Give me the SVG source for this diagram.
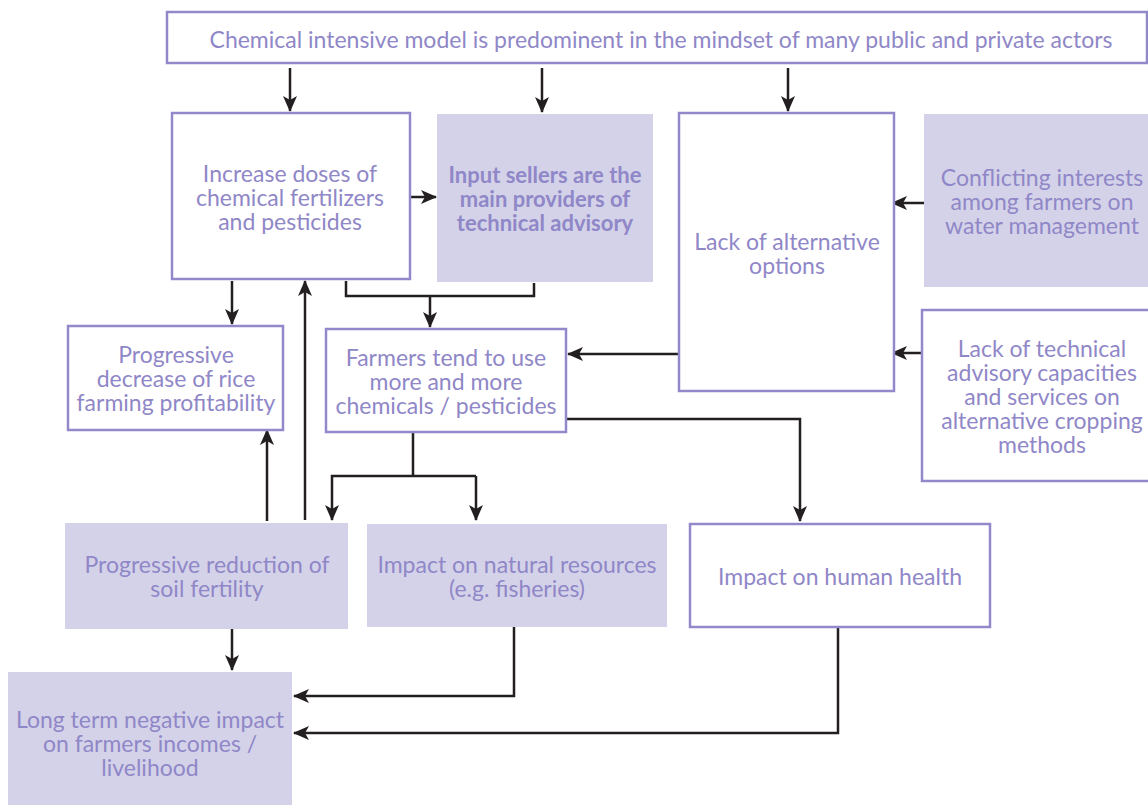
<svg xmlns="http://www.w3.org/2000/svg" width="1148" height="805" viewBox="0 0 1148 805">
  <style>
    .box { fill: #ffffff; stroke: #9189c9; stroke-width: 2.5; }
    .fill { fill: #d4d2e9; stroke: none; }
    .t { font-family: Lato, "Liberation Sans", sans-serif; font-size: 23px; fill: #8f87c7; text-anchor: middle; }
    .b { font-weight: bold; font-size: 22px; }
    .c { fill: none; stroke: #231f20; stroke-width: 2.5; }
    .a { marker-end: url(#arr); }
  </style>
  <defs>
    <marker id="arr" markerUnits="userSpaceOnUse" markerWidth="16" markerHeight="14" viewBox="0 0 16 14" refX="15" refY="7" orient="auto">
      <path d="M0,0 L16,7 L0,14 L4,7 Z" fill="#231f20"/>
    </marker>
  </defs>

  <rect width="1148" height="805" fill="#ffffff"/>

  <!-- connectors -->
  <g id="connectors">
    <path class="c a" d="M290,68 V111"/>
    <path class="c a" d="M542,68 V112"/>
    <path class="c a" d="M788,68 V111"/>
    <path class="c a" d="M400,197 H436"/>
    <path class="c" d="M346,281 V296 H534 V283"/>
    <path class="c a" d="M430,296 V327"/>
    <path class="c a" d="M232,281 V324"/>
    <path class="c a" d="M305,520 V281"/>
    <path class="c a" d="M267,521 V430"/>
    <path class="c a" d="M683,354 H568"/>
    <path class="c a" d="M935,203 H892"/>
    <path class="c a" d="M935,353 H892"/>
    <path class="c" d="M413,433 V476"/>
    <path class="c a" d="M476,476 H332 V520"/>
    <path class="c a" d="M476,476 V520"/>
    <path class="c a" d="M566,419 H800 V521"/>
    <path class="c a" d="M232,628 V670"/>
    <path class="c a" d="M514,627 V696 H294"/>
    <path class="c a" d="M838,627 V733 H294"/>
  </g>

  <g id="n-model">
    <rect class="box" x="167" y="12" width="980" height="51"/>
    <text class="t" x="661" y="48" font-size="24.5">Chemical intensive model is predominent in the mindset of many public and private actors</text>
  </g>

  <g id="n-increase">
    <rect class="box" x="172" y="113" width="238" height="166"/>
    <text class="t" x="290" y="182">Increase doses of</text>
    <text class="t" x="290" y="206">chemical fertilizers</text>
    <text class="t" x="290" y="230">and pesticides</text>
  </g>

  <g id="n-sellers">
    <rect class="fill" x="437" y="114" width="216" height="168"/>
    <text class="t b" x="545" y="183">Input sellers are the</text>
    <text class="t b" x="545" y="207">main providers of</text>
    <text class="t b" x="545" y="231">technical advisory</text>
  </g>

  <g id="n-alternatives">
    <rect class="box" x="679" y="113" width="215" height="278"/>
    <text class="t" x="787" y="250">Lack of alternative</text>
    <text class="t" x="787" y="274">options</text>
  </g>

  <g id="n-conflicting">
    <rect class="fill" x="924" y="114" width="224" height="173"/>
    <text class="t" x="1042" y="186">Conflicting interests</text>
    <text class="t" x="1042" y="210">among farmers on</text>
    <text class="t" x="1042" y="234">water management</text>
  </g>

  <g id="n-advisory">
    <rect class="box" x="922" y="310" width="230" height="171"/>
    <text class="t" x="1042" y="357">Lack of technical</text>
    <text class="t" x="1042" y="381">advisory capacities</text>
    <text class="t" x="1042" y="405">and services on</text>
    <text class="t" x="1042" y="429">alternative cropping</text>
    <text class="t" x="1042" y="453">methods</text>
  </g>

  <g id="n-profitability">
    <rect class="box" x="68" y="326" width="215" height="104"/>
    <text class="t" x="176" y="363">Progressive</text>
    <text class="t" x="176" y="387">decrease of rice</text>
    <text class="t" x="176" y="411">farming profitability</text>
  </g>

  <g id="n-farmers">
    <rect class="box" x="326" y="329" width="240" height="103"/>
    <text class="t" x="446" y="366">Farmers tend to use</text>
    <text class="t" x="446" y="390">more and more</text>
    <text class="t" x="446" y="414">chemicals / pesticides</text>
  </g>

  <g id="n-soil">
    <rect class="fill" x="65" y="523" width="283" height="106"/>
    <text class="t" x="207" y="573">Progressive reduction of</text>
    <text class="t" x="207" y="597">soil fertility</text>
  </g>

  <g id="n-natural">
    <rect class="fill" x="367" y="524" width="300" height="103"/>
    <text class="t" x="517" y="573">Impact on natural resources</text>
    <text class="t" x="517" y="597">(e.g. fisheries)</text>
  </g>

  <g id="n-health">
    <rect class="box" x="690" y="524" width="300" height="103"/>
    <text class="t" x="840" y="585">Impact on human health</text>
  </g>

  <g id="n-longterm">
    <rect class="fill" x="8" y="672" width="284" height="133"/>
    <text class="t" x="150" y="728">Long term negative impact</text>
    <text class="t" x="150" y="752">on farmers incomes /</text>
    <text class="t" x="150" y="776">livelihood</text>
  </g>
</svg>
